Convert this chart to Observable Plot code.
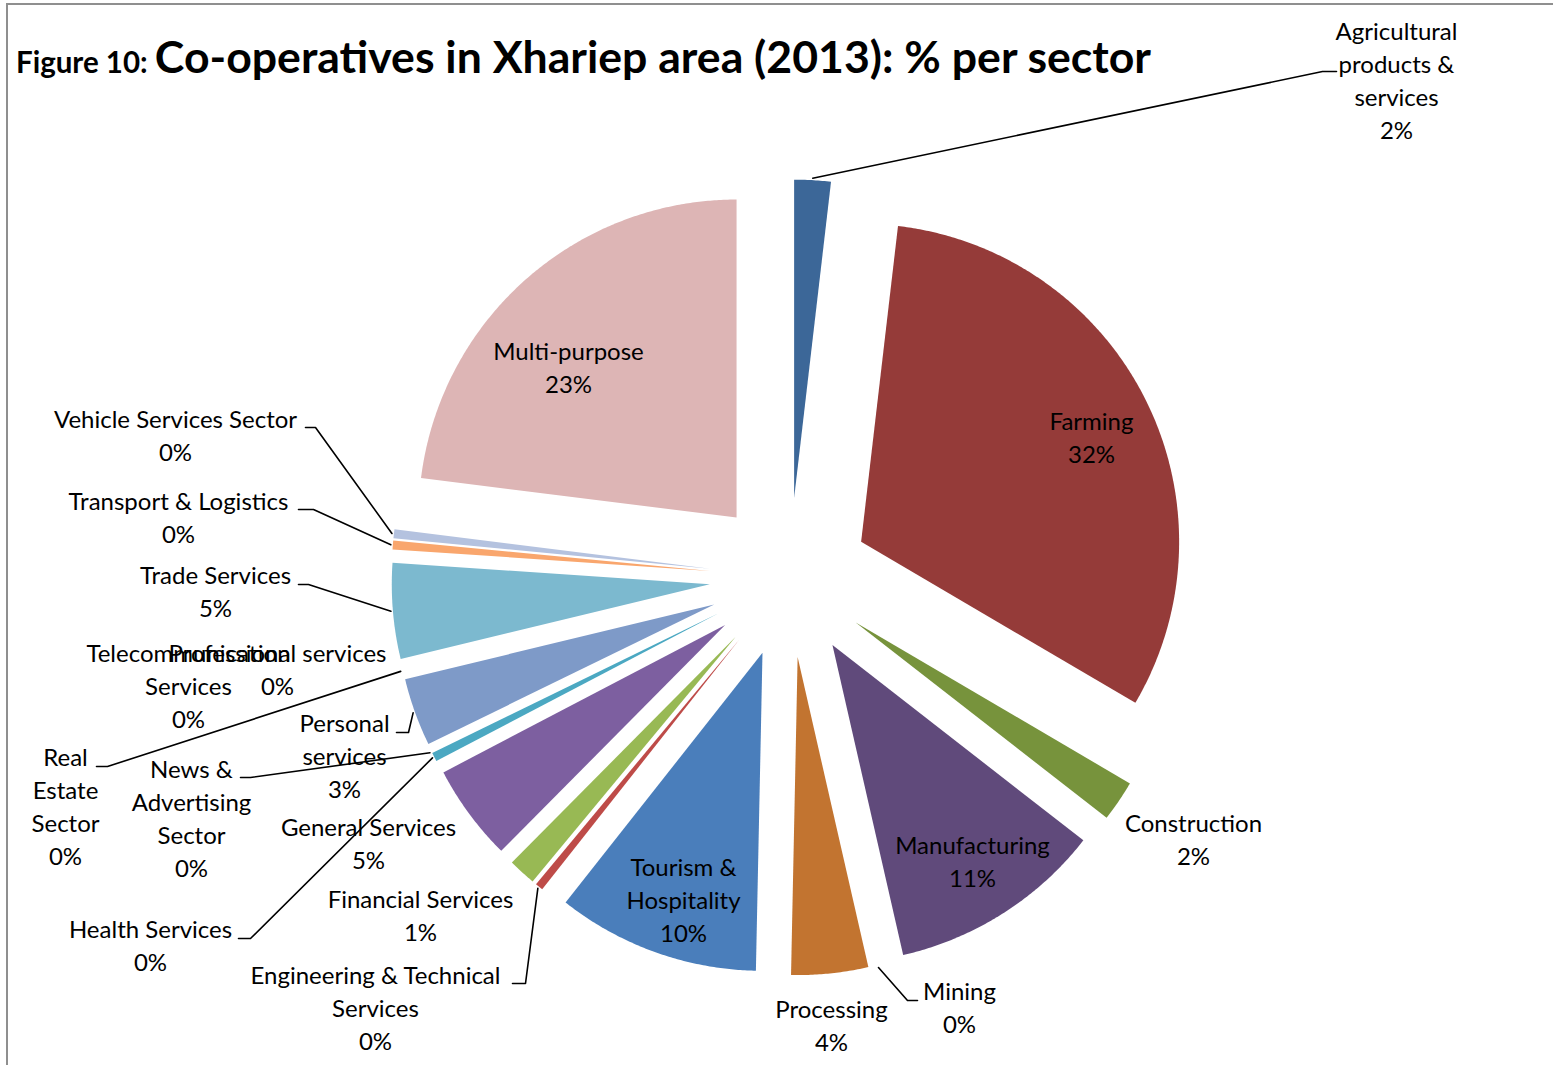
<!DOCTYPE html>
<html>
<head>
<meta charset="utf-8">
<script src="https://cdn.jsdelivr.net/npm/d3@7"></script>
<script src="https://cdn.jsdelivr.net/npm/@observablehq/plot@0.6"></script>
<style>
  body { margin: 0; background: #fff; }
  #wrap { position: relative; width: 1553px; height: 1065px; overflow: hidden; background: #fff; }
  #frame { position: absolute; left: 6px; top: 3px; width: 1700px; height: 1200px;
           border-top: 2px solid #8f8f8f; border-left: 2px solid #8f8f8f; pointer-events: none; }
  #title { position: absolute; left: 16px; top: 34px; font-family: Lato, "Open Sans", sans-serif;
           font-weight: bold; white-space: nowrap; color: #000; line-height: 1; }
  #title .fig { font-size: 29.5px; }
  #title .main { font-size: 44.6px; }
</style>
</head>
<body>
<div id="wrap">
  <div id="chart"></div>
  <div id="frame"></div>
  <div id="title"><span class="fig">Figure 10: </span><span class="main">Co-operatives in Xhariep area (2013): % per sector</span></div>
</div>
<script>
// ---- data (clockwise from 12 o'clock) ----
const sectors = [
  "Agricultural products & services", "Farming", "Construction", "Manufacturing", "Mining",
  "Processing", "Tourism & Hospitality", "Engineering & Technical Services", "Financial Services",
  "General Services", "Health Services", "News & Advertising Sector", "Personal services",
  "Professional services", "Real Estate Sector", "Telecommunication Services", "Trade Services",
  "Transport & Logistics", "Vehicle Services Sector", "Multi-purpose"
];
const shares = [
  1.85, 31.6, 2.08, 10.9, 0,
  3.9, 10.3, 0.4, 1.4,
  4.9, 0.45, 0, 3.45,
  0, 0, 0, 4.85,
  0.45, 0.45, 23.02
];
const colors = [
  "#3C6798", "#953B39", "#77933C", "#604A7B", "#31859C",
  "#C27430", "#4A7EBB", "#BE4B48", "#98B954",
  "#7D5FA0", "#4BA8C2", "#F79646", "#7E9AC8",
  "#D99694", "#C3D69B", "#B3A2C7", "#7CB9CF",
  "#F9A66D", "#B4C2DF", "#DDB5B5"
];

// ---- layout (chart units, origin at pie centre, y downward) ----
const R = 318, EXPLODE = 80;
const labelLayout = {
  "Agricultural products & services": {at: [607, -496], wrap: 12, leader: [[533, -506], [547, -506]]},
  "Farming": {at: [302, -138.5], wrap: 40},
  "Construction": {at: [404, 263.5], wrap: 40},
  "Manufacturing": {at: [183, 285.5], wrap: 40},
  "Mining": {at: [170, 431.5], wrap: 40, leader: [[118, 423], [128, 423]]},
  "Processing": {at: [42, 449.5], wrap: 40},
  "Tourism & Hospitality": {at: [-106, 324], wrap: 11},
  "Engineering & Technical Services": {at: [-414, 432], wrap: 23, leader: [[-264, 406], [-277, 406]]},
  "Financial Services": {at: [-369, 339.5], wrap: 40},
  "General Services": {at: [-421, 267.5], wrap: 40},
  "Health Services": {at: [-639, 369.5], wrap: 40, leader: [[-539, 361], [-551, 361]]},
  "News & Advertising Sector": {at: [-598, 242], wrap: 11, leader: [[-539, 200], [-549, 200]]},
  "Personal services": {at: [-445, 180], wrap: 8, leader: [[-381, 155], [-393, 155]]},
  "Professional services": {at: [-512, 93.5], wrap: 40},
  "Real Estate Sector": {at: [-724, 230], wrap: 6, leader: [[-682, 189], [-693, 189]]},
  "Telecommunication Services": {at: [-601, 109.5], wrap: 17},
  "Trade Services": {at: [-574, 15.5], wrap: 40, leader: [[-481, 7], [-491, 7]]},
  "Transport & Logistics": {at: [-611, -58.5], wrap: 40, leader: [[-476, -68], [-491, -68]]},
  "Vehicle Services Sector": {at: [-614, -140.5], wrap: 40, leader: [[-474, -150], [-484, -150]]},
  "Multi-purpose": {at: [-221, -208.5], wrap: 40}
};
const LABEL_SHIFT_Y = -3;

// ---- derived geometry ----
const total = d3.sum(shares);
const rad = d => d * Math.PI / 180;
const polar = (r, deg) => [r * Math.sin(rad(deg)), -r * Math.cos(rad(deg))];
let acc = 0;
const slices = sectors.map((name, i) => {
  const a0 = acc / total * 360;
  acc += shares[i];
  const a1 = acc / total * 360;
  return {name, value: shares[i], a0, a1, mid: (a0 + a1) / 2};
});

const slicePts = [];
for (const s of slices) {
  if (s.a1 - s.a0 <= 0) continue;
  const [ox, oy] = polar(EXPLODE, s.mid);
  slicePts.push({name: s.name, x: ox, y: oy});
  const n = Math.max(2, Math.ceil((s.a1 - s.a0) / 0.4));
  for (let k = 0; k <= n; k++) {
    const [px, py] = polar(R, s.a0 + (s.a1 - s.a0) * k / n);
    slicePts.push({name: s.name, x: ox + px, y: oy + py});
  }
}

function wrapText(str, width) {
  const words = str.split(" ");
  const lines = [];
  let cur = "";
  for (const w of words) {
    if (cur && (cur + " " + w).length > width) { lines.push(cur); cur = w; }
    else cur = cur ? cur + " " + w : w;
  }
  if (cur) lines.push(cur);
  return lines.join("\n");
}

const fmt = d3.format(".0%");
const labels = slices.map(s => {
  const L = labelLayout[s.name];
  return {name: s.name, x: L.at[0], y: L.at[1] + LABEL_SHIFT_Y,
          text: wrapText(s.name, L.wrap) + "\n" + fmt(s.value / total)};
});

const leaderPts = [];
for (const s of slices) {
  const L = labelLayout[s.name];
  if (!L.leader) continue;
  const [sx, sy] = polar(R + EXPLODE + 2, s.mid);
  leaderPts.push({name: s.name, x: sx, y: sy});
  for (const [x, y] of L.leader) leaderPts.push({name: s.name, x, y});
}

const chart = Plot.plot({
  width: 1553,
  height: 1065,
  margin: 0,
  x: {domain: [-789, 764], range: [0, 1553], axis: null},
  y: {domain: [-577, 488], range: [0, 1065], axis: null},
  color: {domain: sectors, range: colors},
  style: {background: "transparent"},
  marks: [
    Plot.line(slicePts, {x: "x", y: "y", z: "name", fill: "name", stroke: "none"}),
    Plot.line(leaderPts, {x: "x", y: "y", z: "name", stroke: "#000", strokeWidth: 1.6}),
    Plot.text(labels, {x: "x", y: "y", text: "text", fontSize: 24, lineHeight: 1.375,
      fontFamily: "Lato, 'Open Sans', sans-serif", fill: "#000", textAnchor: "middle"})
  ]
});
document.getElementById("chart").appendChild(chart);
</script>
</body>
</html>
